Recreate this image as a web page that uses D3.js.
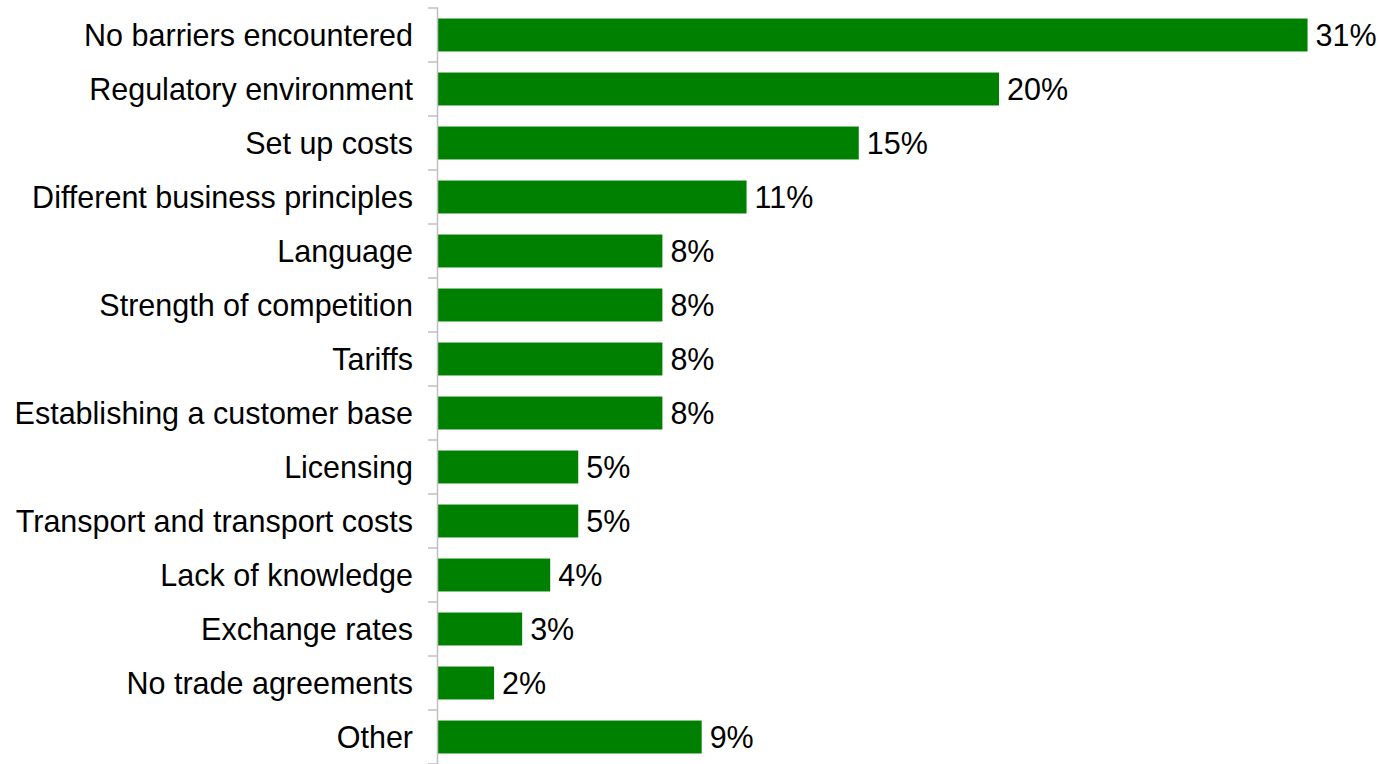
<!DOCTYPE html>
<html>
<head>
<meta charset="utf-8">
<script src="https://cdn.jsdelivr.net/npm/d3@7"></script>
<style>
  html, body { margin: 0; padding: 0; background: #fff; }
  svg { display: block; }
  text { font-family: "Liberation Sans", Arial, sans-serif; fill: #000; }
</style>
</head>
<body>
<script>
// Barriers to trading abroad, share of respondents
const categories = [
  "No barriers encountered",
  "Regulatory environment",
  "Set up costs",
  "Different business principles",
  "Language",
  "Strength of competition",
  "Tariffs",
  "Establishing a customer base",
  "Licensing",
  "Transport and transport costs",
  "Lack of knowledge",
  "Exchange rates",
  "No trade agreements",
  "Other"
];
const shares = [0.31, 0.20, 0.15, 0.11, 0.08, 0.08, 0.08, 0.08, 0.05, 0.05, 0.04, 0.03, 0.02, 0.094];

const width = 1380, height = 764;
const margin = { top: 8, right: 0, bottom: 0, left: 438 };
const fontSize = 30.5;

const svg = d3.select("body").append("svg")
  .attr("width", width)
  .attr("height", height);

const x = d3.scaleLinear()
  .domain([0, 0.35])
  .range([margin.left, margin.left + 0.35 * 2805]);

const y = d3.scaleBand()
  .domain(categories)
  .range([margin.top, height - margin.bottom])
  .paddingInner(0.39)
  .paddingOuter(0.195);

const data = categories.map((c, i) => ({ category: c, value: shares[i] }));

// Bars
svg.append("g")
  .selectAll("rect")
  .data(data)
  .join("rect")
  .attr("x", x(0))
  .attr("y", d => y(d.category))
  .attr("width", d => x(d.value) - x(0))
  .attr("height", y.bandwidth())
  .attr("fill", "#008000");

// Value labels
const fmt = d3.format(".0%");
svg.append("g")
  .selectAll("text")
  .data(data)
  .join("text")
  .attr("x", d => x(d.value) + 8)
  .attr("y", d => y(d.category) + y.bandwidth() / 2)
  .attr("dy", "0.36em")
  .attr("font-size", fontSize)
  .text(d => fmt(d.value));

// Category axis: ticks sit on band boundaries
const axisG = svg.append("g");
axisG.append("line")
  .attr("x1", x(0) - 0.5).attr("x2", x(0) - 0.5)
  .attr("y1", margin.top).attr("y2", height)
  .attr("stroke", "#c0c0c0")
  .attr("stroke-width", 1.5);

const step = y.step();
const boundaries = d3.range(categories.length + 1).map(i => margin.top + i * step);
axisG.selectAll("line.tick")
  .data(boundaries)
  .join("line")
  .attr("class", "tick")
  .attr("x1", x(0) - 10).attr("x2", x(0))
  .attr("y1", d => d).attr("y2", d => d)
  .attr("stroke", "#c0c0c0")
  .attr("stroke-width", 1.5);

axisG.selectAll("text")
  .data(categories)
  .join("text")
  .attr("x", x(0) - 25)
  .attr("y", d => y(d) + y.bandwidth() / 2)
  .attr("dy", "0.36em")
  .attr("text-anchor", "end")
  .attr("font-size", fontSize)
  .text(d => d);
</script>
</body>
</html>
